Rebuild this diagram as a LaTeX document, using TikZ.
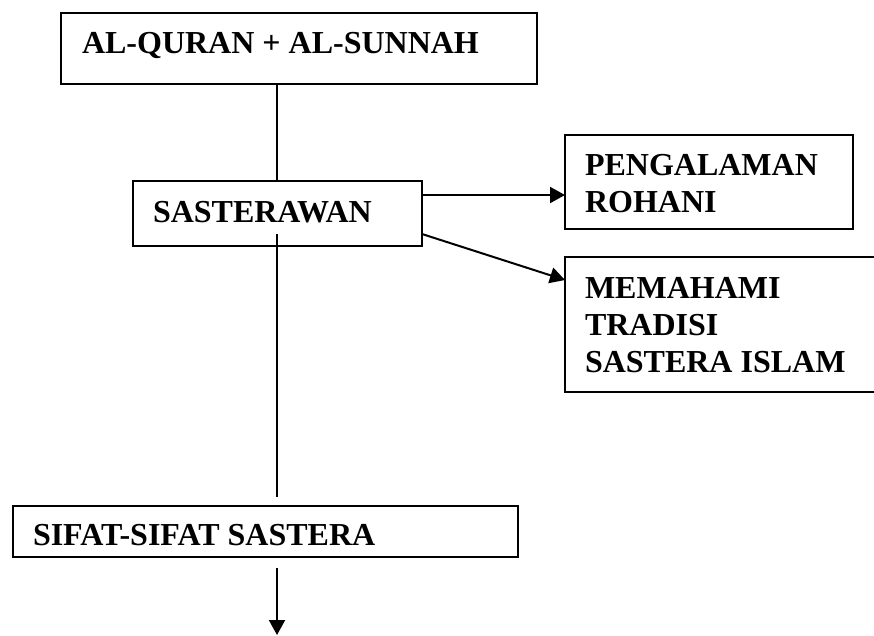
\documentclass[tikz,border=0pt]{standalone}
\usepackage{fontspec}
\setmainfont{Liberation Serif}
\usetikzlibrary{arrows.meta}
\begin{document}
\begin{tikzpicture}[x=1pt,y=-1pt,
  box/.style={draw=black, line width=2.4pt, rectangle, inner sep=0pt, outer sep=0pt},
  lbl/.style={anchor=north west, inner sep=0pt, outer sep=0pt, align=left,
    font=\fontsize{32pt}{37pt}\selectfont\bfseries},
  conn/.style={draw=black, line width=2pt},
  arr/.style={conn, -{Triangle[length=15pt,width=16pt]}}]
\useasboundingbox (0,0) rectangle (874,635);
\fill[white] (0,0) rectangle (874,635);
\clip (0,0) rectangle (874,635);

% boxes
\node[box, minimum width=476pt, minimum height=71pt] (Q) at (299,48.5) {};
\node[box, minimum width=289pt, minimum height=65pt] (S) at (277.5,213.5) {};
\node[box, minimum width=288pt, minimum height=94pt] (P) at (709,182) {};
\node[box, minimum width=335pt, minimum height=135pt] (M) at (732.5,324.5) {};
\node[box, minimum width=505pt, minimum height=51pt] (F) at (265.5,531.5) {};

% labels
\node[lbl] (Qt) at (82,32) {AL-QURAN + AL-SUNNAH};
\node[lbl] (St) at (153,201) {SASTERAWAN};
\node[lbl] (Pt) at (585,154) {PENGALAMAN\\ROHANI};
\node[lbl] (Mt) at (585,277) {MEMAHAMI\\TRADISI\\SASTERA ISLAM};
\node[lbl] (Ft) at (33,524) {SIFAT-SIFAT SASTERA};

% helper coordinates
\coordinate (vx) at (277,0);
\coordinate (sIn) at (277,234);
\coordinate (sEnd) at (277,497);
\coordinate (a1) at (0,195);
\coordinate (a2s) at (0,234);
\coordinate (a2e) at (0,280);
\coordinate (fStart) at (277,568);
\coordinate (fEnd) at (277,635);

% connectors
\draw[conn] (Q.south -| vx) -- (S.north -| vx);
\draw[conn] (sIn) -- (sEnd);
\draw[arr] (S.east |- a1) -- (P.west |- a1);
\draw[arr] (S.east |- a2s) -- (M.west |- a2e);
\draw[arr] (fStart) -- (fEnd);
\end{tikzpicture}
\end{document}
